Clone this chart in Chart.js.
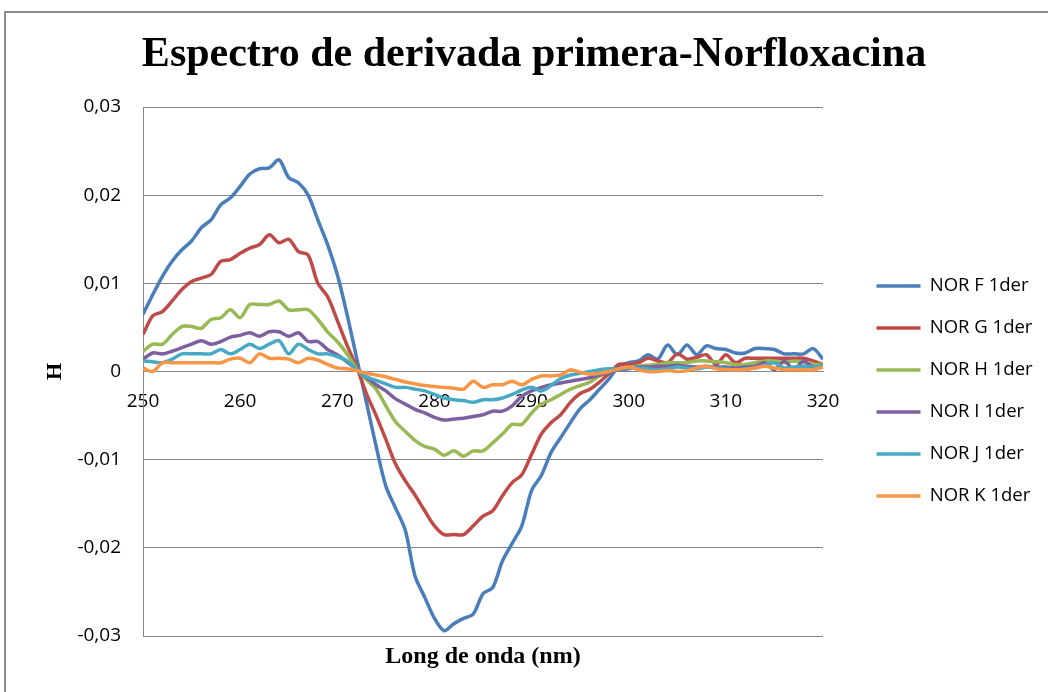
<!DOCTYPE html>
<html>
<head>
<meta charset="utf-8">
<script src="https://cdn.jsdelivr.net/npm/chart.js@4.4.1/dist/chart.umd.min.js"></script>
<style>
  html, body { margin: 0; padding: 0; background: #fff; overflow: hidden; }
  #frame { position: absolute; left: 4px; top: 11px; width: 1100px; height: 800px; border: 2px solid #8c8c8c; }
  #wrap { position: absolute; left: 0; top: 0; width: 1048px; height: 692px; }
</style>
</head>
<body>
<div id="frame"></div>
<div id="wrap"><canvas id="chart"></canvas></div>
<script>
// wavelength (nm)
var wavelengths = [250,251,252,253,254,255,256,257,258,259,
  260,261,262,263,264,265,266,267,268,269,
  270,271,272,273,274,275,276,277,278,279,
  280,281,282,283,284,285,286,287,288,289,
  290,291,292,293,294,295,296,297,298,299,
  300,301,302,303,304,305,306,307,308,309,
  310,311,312,313,314,315,316,317,318,319,
  320];

var norF = [0.0065,0.0087,0.0108,0.0125,0.0138,0.0148,0.0163,0.0172,0.0189,0.0197,
  0.0210,0.0224,0.0230,0.0231,0.0240,0.0220,0.0214,0.0200,0.0172,0.0144,
  0.0110,0.0065,0.0015,-0.0035,-0.0085,-0.0130,-0.0155,-0.0180,-0.0232,-0.0256,
  -0.0280,-0.0294,-0.0286,-0.0280,-0.0275,-0.0252,-0.0245,-0.0215,-0.0195,-0.0175,
  -0.0135,-0.0118,-0.0092,-0.0075,-0.0058,-0.0042,-0.0032,-0.0020,-0.0008,0.0006,
  0.0010,0.0012,0.0019,0.0014,0.0030,0.0019,0.0030,0.0019,0.0029,0.0026,
  0.0025,0.0021,0.0021,0.0026,0.0026,0.0025,0.0020,0.0020,0.0020,0.0026,
  0.0014];

var norG = [0.0042,0.0063,0.0068,0.0080,0.0093,0.0102,0.0106,0.0110,0.0125,0.0127,
  0.0134,0.0140,0.0144,0.0155,0.0146,0.0150,0.0136,0.0132,0.0100,0.0085,
  0.0058,0.0030,0.0005,-0.0025,-0.0050,-0.0077,-0.0105,-0.0124,-0.0140,-0.0158,
  -0.0175,-0.0185,-0.0185,-0.0185,-0.0175,-0.0164,-0.0158,-0.0141,-0.0126,-0.0117,
  -0.0094,-0.0071,-0.0058,-0.0049,-0.0035,-0.0025,-0.0020,-0.0012,-0.0002,0.0008,
  0.0008,0.0010,0.0015,0.0012,0.0010,0.0020,0.0014,0.0016,0.0019,0.0008,
  0.0019,0.0010,0.0015,0.0015,0.0015,0.0015,0.0015,0.0015,0.0015,0.0012,
  0.0008];

var norH = [0.0023,0.0031,0.0031,0.0042,0.0051,0.0051,0.0049,0.0059,0.0061,0.0070,
  0.0061,0.0076,0.0076,0.0076,0.0080,0.0070,0.0070,0.0070,0.0059,0.0045,
  0.0034,0.0020,0.0003,-0.0009,-0.0020,-0.0039,-0.0057,-0.0068,-0.0078,-0.0085,
  -0.0088,-0.0095,-0.0090,-0.0096,-0.0090,-0.0090,-0.0081,-0.0071,-0.0060,-0.0060,
  -0.0047,-0.0037,-0.0032,-0.0026,-0.0020,-0.0016,-0.0012,-0.0005,0.0000,0.0002,
  0.0004,0.0006,0.0007,0.0008,0.0010,0.0010,0.0010,0.0012,0.0012,0.0011,
  0.0010,0.0008,0.0008,0.0010,0.0012,0.0012,0.0010,0.0012,0.0010,0.0008,
  0.0008];

var norI = [0.0014,0.0021,0.0020,0.0023,0.0027,0.0031,0.0035,0.0031,0.0034,0.0039,
  0.0041,0.0044,0.0040,0.0045,0.0045,0.0040,0.0044,0.0034,0.0034,0.0025,
  0.0019,0.0011,0.0002,-0.0007,-0.0015,-0.0022,-0.0031,-0.0037,-0.0043,-0.0047,
  -0.0052,-0.0055,-0.0054,-0.0053,-0.0051,-0.0049,-0.0045,-0.0045,-0.0039,-0.0028,
  -0.0022,-0.0018,-0.0015,-0.0013,-0.0011,-0.0009,-0.0007,-0.0004,-0.0001,0.0002,
  0.0003,0.0005,0.0005,0.0006,0.0006,0.0007,0.0006,0.0005,0.0006,0.0005,
  0.0005,0.0004,0.0005,0.0006,0.0010,0.0002,0.0012,0.0002,0.0012,0.0005,
  0.0006];

var norJ = [0.0012,0.0011,0.0010,0.0014,0.0020,0.0020,0.0020,0.0020,0.0025,0.0020,
  0.0025,0.0031,0.0026,0.0031,0.0035,0.0020,0.0031,0.0025,0.0020,0.0020,
  0.0017,0.0012,0.0002,-0.0006,-0.0010,-0.0014,-0.0018,-0.0018,-0.0020,-0.0022,
  -0.0026,-0.0030,-0.0032,-0.0033,-0.0035,-0.0032,-0.0032,-0.0030,-0.0026,-0.0021,
  -0.0018,-0.0022,-0.0016,-0.0008,-0.0004,-0.0002,0.0000,0.0002,0.0003,0.0003,
  0.0004,0.0004,0.0003,0.0002,0.0003,0.0005,0.0004,0.0003,0.0005,0.0004,
  0.0003,0.0002,0.0003,0.0004,0.0007,0.0010,0.0004,0.0005,0.0006,0.0005,
  0.0007];

var norK = [0.0004,0.0000,0.0010,0.0010,0.0010,0.0010,0.0010,0.0010,0.0010,0.0014,
  0.0015,0.0010,0.0020,0.0015,0.0015,0.0014,0.0010,0.0015,0.0013,0.0008,
  0.0004,0.0003,0.0001,-0.0002,-0.0004,-0.0006,-0.0009,-0.0012,-0.0014,-0.0016,
  -0.0017,-0.0018,-0.0019,-0.0020,-0.0011,-0.0018,-0.0015,-0.0015,-0.0011,-0.0015,
  -0.0009,-0.0005,-0.0005,-0.0004,0.0002,-0.0001,-0.0003,-0.0002,0.0000,0.0003,
  0.0005,0.0002,0.0000,0.0000,0.0001,0.0000,0.0001,0.0004,0.0006,0.0003,
  0.0002,0.0002,0.0002,0.0004,0.0006,0.0004,0.0002,0.0002,0.0002,0.0002,
  0.0005];

var seriesNames = ['NOR F 1der', 'NOR G 1der', 'NOR H 1der', 'NOR I 1der', 'NOR J 1der', 'NOR K 1der'];
var seriesData = [norF, norG, norH, norI, norJ, norK];
var seriesColors = ['#4a7ebb', '#be4b48', '#98b954', '#7d60a0', '#46aac5', '#f79646'];

var xTicks = [250, 260, 270, 280, 290, 300, 310, 320];
var yTicks = [-0.03, -0.02, -0.01, 0, 0.01, 0.02, 0.03];

var gridColor = '#878787';
var sansFont = "'Open Sans', 'Noto Sans', sans-serif";
var serifFont = "'Liberation Serif', 'Times New Roman', serif";

function toPoints(values) {
  return values.map(function (v, i) { return {x: wavelengths[i], y: v}; });
}

// later series are drawn on top, like the original
var datasets = seriesNames.map(function (name, i) {
  return {
    label: name,
    data: toPoints(seriesData[i]),
    borderColor: seriesColors[i],
    backgroundColor: seriesColors[i],
    borderWidth: 3.5,
    pointRadius: 0,
    tension: 0.3,
    fill: false,
    order: seriesNames.length - i,
    xAxisID: 'x',
    yAxisID: 'y'
  };
});

var chart = new Chart(document.getElementById('chart'), {
  type: 'line',
  data: { datasets: datasets },
  options: {
    responsive: true,
    maintainAspectRatio: false,
    animation: false,
    layout: { padding: { left: 20, right: 0, top: 10, bottom: 0 } },
    scales: {
      x: {
        type: 'linear',
        position: { y: 0 },
        min: 250,
        max: 320,
        afterBuildTicks: function (scale) {
          scale.ticks = xTicks.map(function (v) { return {value: v}; });
        },
        ticks: {
          color: '#000',
          font: { family: sansFont, size: 19 },
          padding: 18.6,
          maxRotation: 0,
          autoSkip: false
        },
        grid: { display: false, drawTicks: false },
        border: { display: true, color: gridColor, width: 1 }
      },
      x2: {
        type: 'linear',
        position: 'bottom',
        min: 250,
        max: 320,
        ticks: { display: false },
        grid: { display: false, drawTicks: false },
        border: { display: false },
        title: {
          display: true,
          text: 'Long de onda (nm)',
          color: '#000',
          font: { family: serifFont, size: 24, weight: 'bold' },
          padding: { top: 0, bottom: 20.6 }
        },
        afterFit: function (scale) { scale.height = 56; }
      },
      y: {
        type: 'linear',
        position: 'left',
        min: -0.03,
        max: 0.03,
        afterBuildTicks: function (scale) {
          scale.ticks = yTicks.map(function (v) { return {value: v}; });
        },
        ticks: {
          color: '#000',
          font: { family: sansFont, size: 19 },
          padding: 22,
          callback: function (v) {
            if (Math.abs(v) < 1e-9) return '0';
            return v.toFixed(2).replace('.', ',');
          }
        },
        grid: { color: gridColor, lineWidth: 1, drawTicks: false },
        border: { display: true, color: gridColor, width: 1 },
        title: {
          display: true,
          text: 'H',
          color: '#000',
          font: { family: serifFont, size: 22, weight: 'bold' },
          padding: { top: 21.8, bottom: 0 }
        },
        afterFit: function (scale) { scale.width = 123; }
      },
      y2: {
        type: 'linear',
        position: 'right',
        ticks: { display: false },
        grid: { display: false, drawTicks: false },
        border: { display: false },
        afterFit: function (scale) { scale.width = 30; }
      }
    },
    plugins: {
      title: {
        display: true,
        text: 'Espectro de derivada primera-Norfloxacina',
        color: '#000',
        font: { family: serifFont, size: 42, weight: 'bold' },
        padding: { top: 19.8, bottom: 26.8 }
      },
      legend: {
        position: 'right',
        fullSize: false,
        align: 'center',
        title: {
          display: true,
          text: ' ',
          font: { size: 10, lineHeight: 1 },
          padding: { top: 29, bottom: 0 }
        },
        labels: {
          usePointStyle: true,
          pointStyle: 'line',
          pointStyleWidth: 44,
          padding: 23.5,
          color: '#000',
          font: { family: sansFont, size: 18.5 },
          sort: function (a, b) { return a.datasetIndex - b.datasetIndex; }
        }
      },
      tooltip: { enabled: false }
    }
  }
});

// keep the legend column at a fixed width so the plot ends where the original does
var legendFit = chart.legend.fit;
chart.legend.fit = function () {
  legendFit.call(this);
  this.width = 195;
};
chart.update();
</script>
</body>
</html>
